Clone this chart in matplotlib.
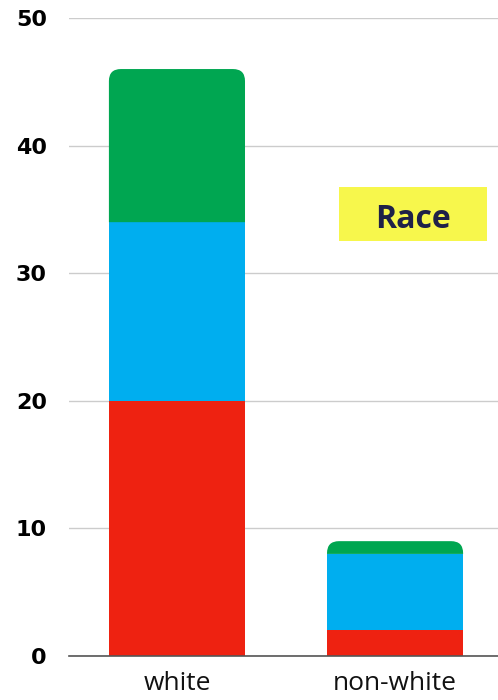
import numpy as np
import matplotlib
matplotlib.use('Agg')
import matplotlib.pyplot as plt
from matplotlib.path import Path
from matplotlib.patches import PathPatch, Rectangle

# data
categories = ['white', 'non-white']
red_vals = [20, 2]
blue_vals = [14, 6]
green_vals = [12, 1]
yticks = [0, 10, 20, 30, 40, 50]

red = '#EE2211'
blue = '#00AEEF'
green = '#00A651'

fig = plt.figure(figsize=(4.98, 7.0), dpi=100)
ax = fig.add_axes([69 / 498, 1 - 656 / 700, 1 - 69 / 498, (656 - 18) / 700])

x = np.arange(len(categories))
width = 0.624
ax.set_xlim(-0.495, 1.472)
ax.set_ylim(0, 50)

ax.bar(x, red_vals, width, color=red, zorder=2)
ax.bar(x, blue_vals, width, bottom=red_vals, color=blue, zorder=2)

# top segment with rounded top corners
fig.canvas.draw()
p0 = ax.transData.transform((0, 0))
p1 = ax.transData.transform((1, 1))
px_x = p1[0] - p0[0]
px_y = p1[1] - p0[1]
r = 12
rx, ry = r / px_x, r / px_y
bottoms = np.array(red_vals) + np.array(blue_vals)
for xi, b, h in zip(x, bottoms, green_vals):
    l, rr, t = xi - width / 2, xi + width / 2, b + h
    verts = [(l, b), (l, t - ry), (l, t), (l + rx, t), (rr - rx, t), (rr, t),
             (rr, t - ry), (rr, b), (l, b)]
    codes = [Path.MOVETO, Path.LINETO, Path.CURVE3, Path.CURVE3, Path.LINETO,
             Path.CURVE3, Path.CURVE3, Path.LINETO, Path.CLOSEPOLY]
    ax.add_patch(PathPatch(Path(verts, codes), facecolor=green, edgecolor='none', zorder=2))

ax.set_yticks(yticks)
ax.set_yticklabels([str(v) for v in yticks], fontsize=16, fontweight='bold',
                   family='DejaVu Sans', color='#000000')
ax.set_xticks(x)
ax.set_xticklabels(categories, fontsize=19, family='Open Sans', color='#111111')
ax.tick_params(axis='y', length=0, pad=16)
ax.tick_params(axis='x', length=0, pad=11)
ax.grid(axis='y', color='#cccccc', linewidth=1, zorder=0)
for s in ['top', 'right', 'left']:
    ax.spines[s].set_visible(False)
ax.spines['bottom'].set_color('#555555')
ax.spines['bottom'].set_linewidth(1.2)
ax.spines['bottom'].set_zorder(3)

# label box
fig.patches.append(Rectangle((339 / 498, 1 - 241 / 700), 148 / 498, 54 / 700,
                             transform=fig.transFigure, facecolor='#F7F74C',
                             edgecolor='none', zorder=5))
fig.text(413 / 498, 1 - 219 / 700, 'Race', fontsize=23, fontweight='bold',
         family='Open Sans', color='#1F2148', ha='center', va='center', zorder=6)

fig.savefig('out.png', dpi=100)
